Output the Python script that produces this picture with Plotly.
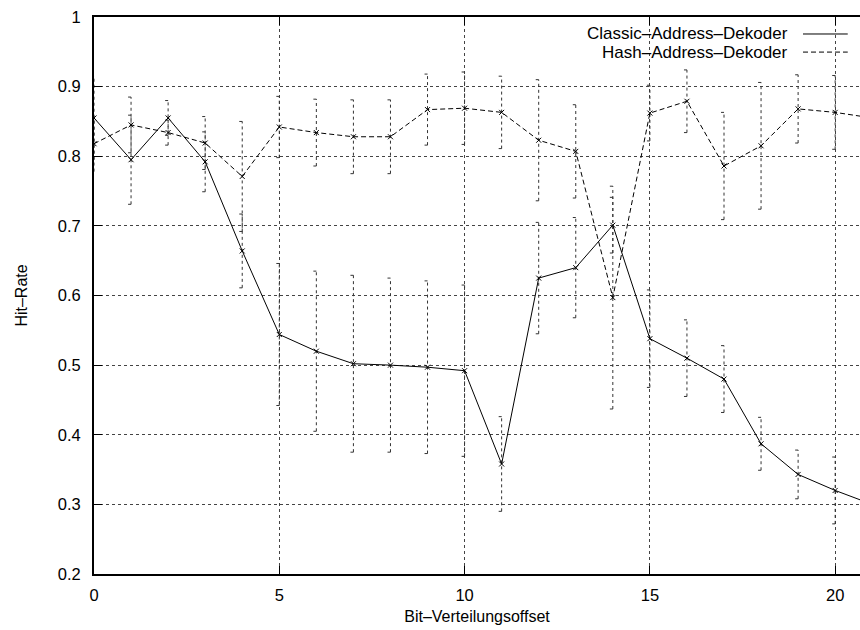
import plotly.graph_objects as go

offsets = list(range(22))
classic = [0.855, 0.795, 0.855, 0.792, 0.664, 0.544, 0.520, 0.502, 0.500, 0.497, 0.492,
           0.358, 0.625, 0.640, 0.701, 0.538, 0.510, 0.480, 0.387, 0.343, 0.320, 0.300]
classic_err = [0.060, 0.064, 0.025, 0.043, 0.053, 0.102, 0.115, 0.127, 0.125, 0.124, 0.123,
               0.068, 0.080, 0.072, 0.040, 0.070, 0.055, 0.048, 0.038, 0.035, 0.048, 0.040]
hashv = [0.818, 0.845, 0.834, 0.819, 0.771, 0.842, 0.834, 0.828, 0.828, 0.867, 0.869,
         0.863, 0.823, 0.807, 0.597, 0.862, 0.879, 0.786, 0.815, 0.868, 0.863, 0.855]
hash_err = [0.040, 0.040, 0.018, 0.038, 0.079, 0.044, 0.048, 0.053, 0.053, 0.051, 0.052,
            0.052, 0.087, 0.067, 0.160, 0.040, 0.045, 0.077, 0.091, 0.049, 0.053, 0.050]
yticks = [0.2, 0.3, 0.4, 0.5, 0.6, 0.7, 0.8, 0.9, 1.0]
ytext = ["0.2", "0.3", "0.4", "0.5", "0.6", "0.7", "0.8", "0.9", "1"]
xticks = [0, 5, 10, 15, 20]
names = ["Classic\u2013Address\u2013Dekoder", "Hash\u2013Address\u2013Dekoder"]

CAP = 0.08
FONT = "Liberation Sans, Arial, sans-serif"


def err_paths(xs, ys, es):
    px, py = [], []
    for x, y, e in zip(xs, ys, es):
        lo, hi = y - e, y + e
        px += [x, x, None, x - CAP, x + CAP, None, x - CAP, x + CAP, None]
        py += [lo, hi, None, lo, lo, None, hi, hi, None]
    return px, py


fig = go.Figure()
for ys, es in [(classic, classic_err), (hashv, hash_err)]:
    ex, ey = err_paths(offsets, ys, es)
    fig.add_trace(go.Scatter(x=ex, y=ey, mode="lines", showlegend=False, hoverinfo="skip",
                             line=dict(color="#333", width=1, dash="dot")))

fig.add_trace(go.Scatter(x=offsets, y=classic, mode="lines+markers", name=names[0],
                         line=dict(color="black", width=1),
                         marker=dict(symbol="x-thin-open", size=5, color="black",
                                     line=dict(width=1, color="black"))))
fig.add_trace(go.Scatter(x=offsets, y=hashv, mode="lines+markers", name=names[1],
                         line=dict(color="black", width=1, dash="5px,3px"),
                         marker=dict(symbol="x-thin-open", size=5, color="black",
                                     line=dict(width=1, color="black"))))

# legend drawn gnuplot-style: text right-aligned, sample to the right
leg_rows = [(0.9695, "solid"), (0.937, "5px,3px")]
for name, (yy, dash) in zip(names, leg_rows):
    fig.add_annotation(xref="paper", yref="paper", x=0.9086, y=yy, text=name,
                       showarrow=False, xanchor="right", yanchor="middle",
                       font=dict(family=FONT, size=17, color="black"))
    fig.add_shape(type="line", xref="paper", yref="paper", x0=0.9256, x1=0.984,
                  y0=yy, y1=yy, line=dict(color="black", width=1, dash=dash))

fig.update_layout(
    width=860, height=630,
    margin=dict(l=94, r=0, t=17, b=56),
    paper_bgcolor="white", plot_bgcolor="white",
    showlegend=False,
    font=dict(family=FONT, size=16, color="black"),
)
fig.update_xaxes(
    range=[0, 20.67], tickvals=xticks, ticks="inside", ticklen=8, tickwidth=1,
    tickcolor="black", showline=True, linecolor="black", linewidth=2,
    mirror="allticks", showgrid=True, gridcolor="#444", griddash="dot", gridwidth=1,
    zeroline=False, ticklabelstandoff=5, tickfont=dict(size=16.5),
    title=dict(text="Bit\u2013Verteilungsoffset", font=dict(size=16), standoff=8),
)
fig.update_yaxes(
    range=[0.2, 1.0], tickvals=yticks, ticktext=ytext, ticks="inside", ticklen=8,
    tickwidth=1, tickcolor="black", showline=True, linecolor="black", linewidth=2,
    mirror=False, showgrid=True, gridcolor="#444", griddash="dot", gridwidth=1,
    zeroline=False, ticklabelstandoff=8, tickfont=dict(size=16.5),
    title=dict(text="Hit\u2013Rate", font=dict(size=16), standoff=26),
)

fig.write_html("out.html")
